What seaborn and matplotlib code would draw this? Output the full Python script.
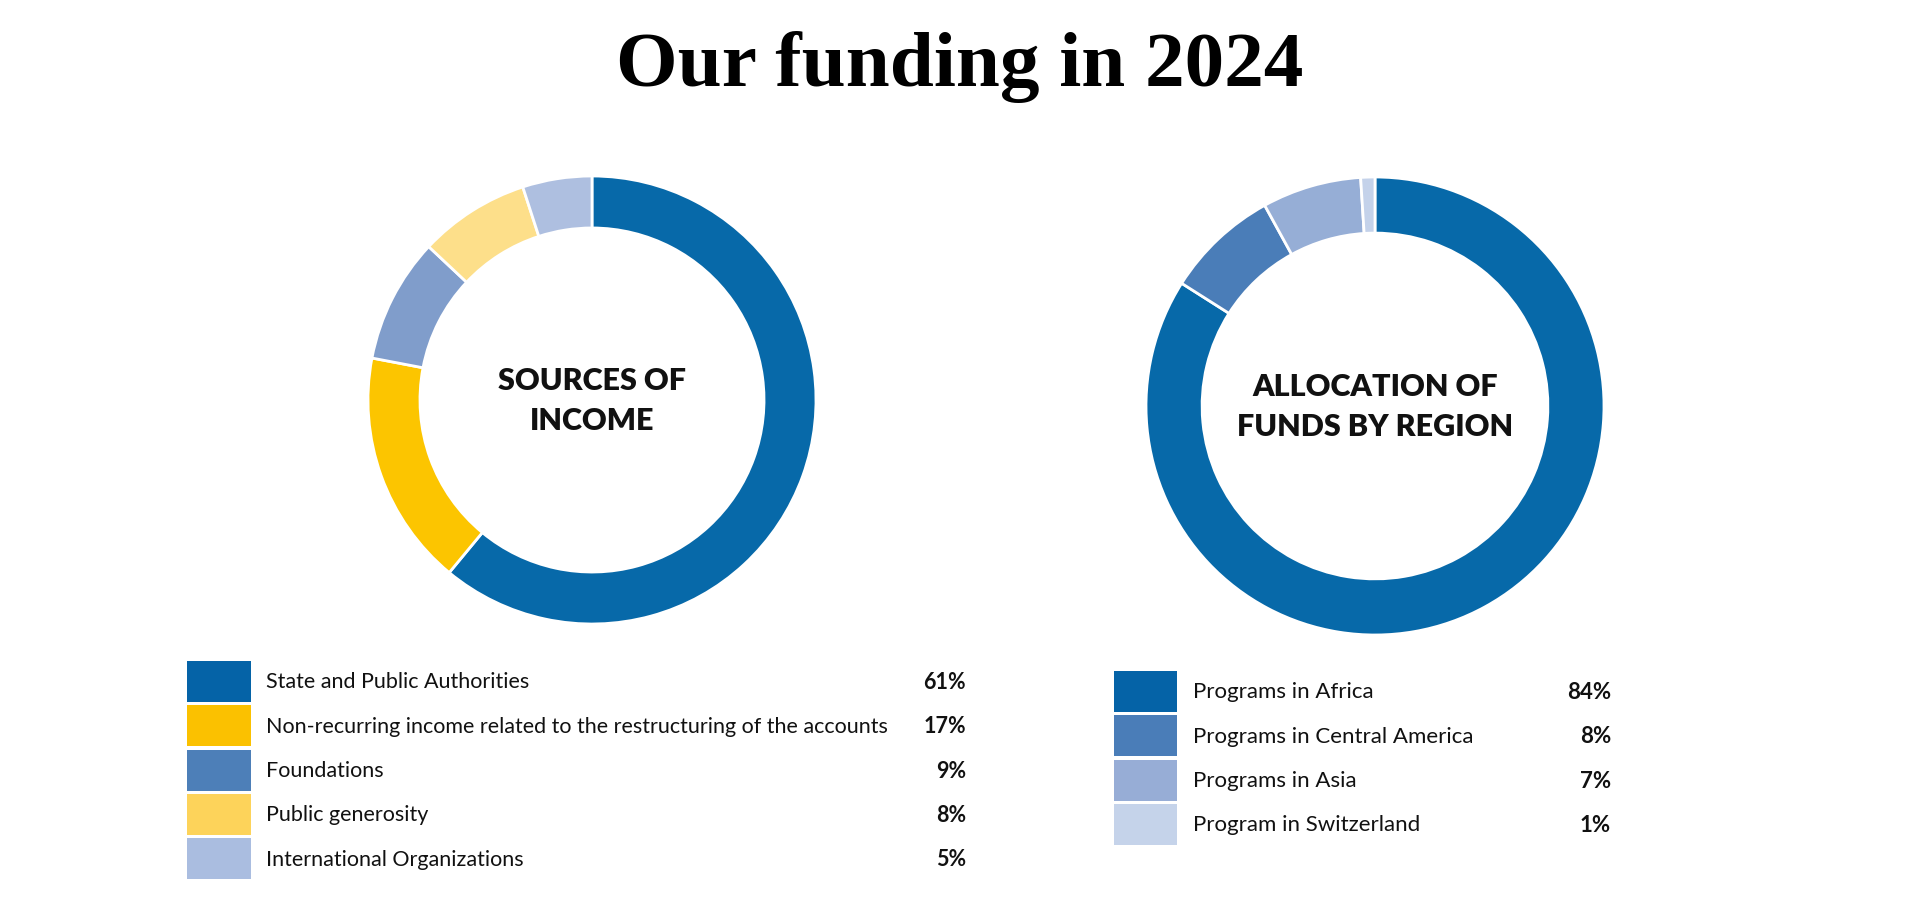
import matplotlib
matplotlib.use('Agg')
import matplotlib.pyplot as plt
from matplotlib.patches import Rectangle
import seaborn as sns

# Data
income_labels = [
    "State and Public Authorities",
    "Non-recurring income related to the restructuring of the accounts",
    "Foundations",
    "Public generosity",
    "International Organizations",
]
income_values = [61, 17, 9, 8, 5]
income_ring_colors = ["#0769a9", "#fcc500", "#809dcb", "#fddf8a", "#aebfe0"]
income_key_colors = ["#0563a7", "#fbc100", "#4d7fb8", "#fdd35a", "#aabde0"]

region_labels = [
    "Programs in Africa",
    "Programs in Central America",
    "Programs in Asia",
    "Program in Switzerland",
]
region_values = [84, 8, 7, 1]
region_ring_colors = ["#0769a9", "#4a7db8", "#96aed6", "#c4d2ea"]
region_key_colors = ["#0563a7", "#4a7db8", "#97add6", "#c5d3ea"]

W, H = 1920, 912

sns.set_theme(style="white")
plt.rcParams['font.family'] = ['Lato', 'DejaVu Sans']

fig = plt.figure(figsize=(W / 100, H / 100), dpi=100)
fig.patch.set_facecolor("white")


def donut(cx, cy, r, values, colors, center_text, width):
    """Place a donut axes centred at pixel (cx, cy) with outer radius r."""
    ax = fig.add_axes([(cx - r) / W, (H - cy - r) / H, 2 * r / W, 2 * r / H])
    ax.pie(values, colors=colors, startangle=90, counterclock=False,
           radius=1.0,
           wedgeprops=dict(width=width, edgecolor="white", linewidth=2))
    ax.set_xlim(-1, 1)
    ax.set_ylim(-1, 1)
    ax.set_aspect("equal")
    ax.axis("off")
    ax.text(0, 0, center_text, ha="center", va="center", fontsize=22,
            fontweight="heavy", color="#111111", linespacing=1.5)
    return ax


donut(592, 401, 224, income_values, income_ring_colors,
      "SOURCES OF\nINCOME", 0.232)
donut(1375, 407, 229, region_values, region_ring_colors,
      "ALLOCATION OF\nFUNDS BY REGION", 0.245)

# Overlay in pixel space for legends and title
lay = fig.add_axes([0, 0, 1, 1])
lay.set_xlim(0, W)
lay.set_ylim(H, 0)
lay.axis("off")
lay.patch.set_alpha(0)


def key(x0, top, pitch, sq_w, sq_h, text_x, pct_x, labels, values, colors, fs):
    for i, (lab, val, col) in enumerate(zip(labels, values, colors)):
        y = top + i * pitch
        lay.add_patch(Rectangle((x0, y), sq_w, sq_h, facecolor=col,
                                edgecolor="none"))
        yc = y + sq_h / 2
        lay.text(text_x, yc, lab, ha="left", va="center", fontsize=fs,
                 color="#111111")
        lay.text(pct_x, yc, f"{val}%", ha="right", va="center", fontsize=fs,
                 fontweight="bold", color="#111111")


key(187, 662, 44.3, 64, 41, 266, 966,
    income_labels, income_values, income_key_colors, 15.5)
key(1114, 672, 44.3, 63, 41, 1193, 1611,
    region_labels, region_values, region_key_colors, 16)

lay.text(W / 2, 86, "Our funding in 2024", ha="center", va="baseline",
         fontsize=57, fontweight="bold", color="black",
         family=["Liberation Serif", "DejaVu Serif"])

fig.savefig("out.png", dpi=100, facecolor="white")
